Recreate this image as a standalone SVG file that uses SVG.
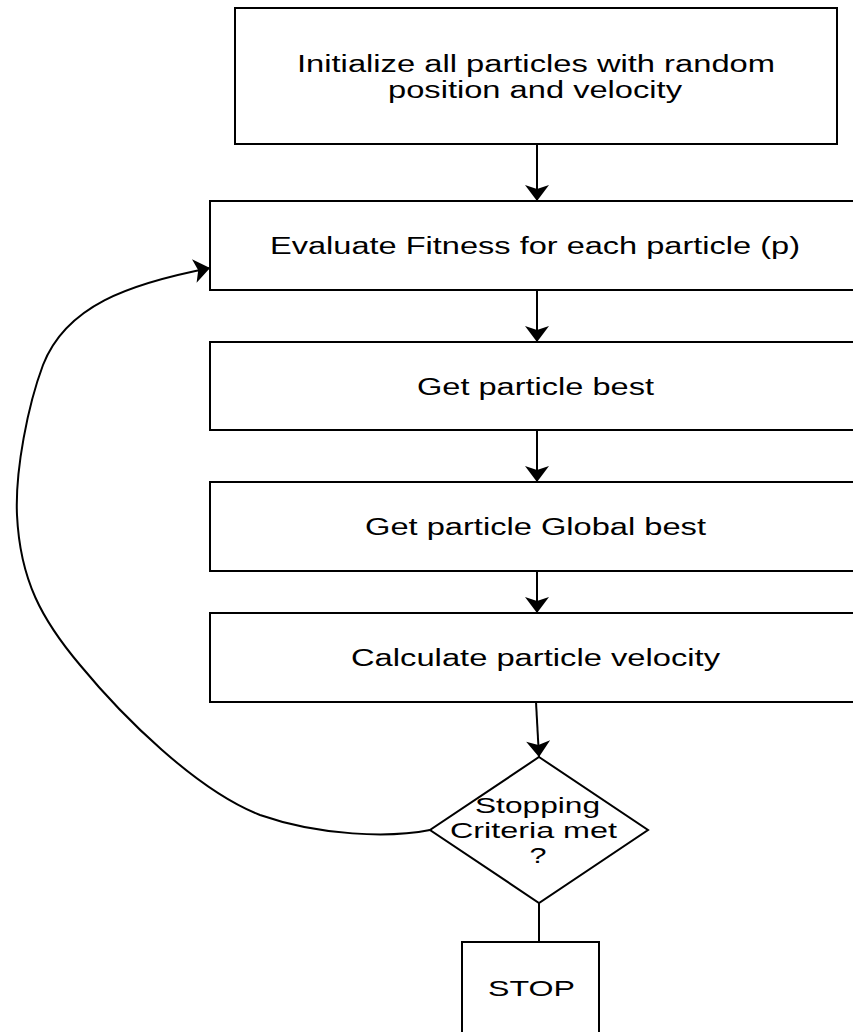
<svg xmlns="http://www.w3.org/2000/svg" width="853" height="1032" viewBox="0 0 853 1032">
  <style>
    .box { fill: #ffffff; stroke: #000000; stroke-width: 2; }
    .lbl { font-family: "Liberation Sans", Arial, Helvetica, sans-serif; font-size: 23px; fill: #000000; text-anchor: middle; }
    .sm { font-size: 22px; }
    .edge { fill: none; stroke: #000000; stroke-width: 2; }
  </style>
  <defs>
    <marker id="arrow" viewBox="-18 -13 19 26" refX="0" refY="0" markerWidth="19" markerHeight="26" markerUnits="userSpaceOnUse" orient="auto">
      <path d="M0,0 L-16,-12 L-12,0 L-16,12 Z" fill="#000000"/>
    </marker>
  </defs>
  <rect x="0" y="0" width="853" height="1032" fill="#ffffff"/>

  <g id="connectors">
    <path class="edge" d="M537,144 L537,201" marker-end="url(#arrow)"/>
    <path class="edge" d="M537,290 L537,342" marker-end="url(#arrow)"/>
    <path class="edge" d="M537,430 L537,482" marker-end="url(#arrow)"/>
    <path class="edge" d="M537,571 L537,613" marker-end="url(#arrow)"/>
    <path class="edge" d="M536,702 L539,757" marker-end="url(#arrow)"/>
    <path class="edge" d="M539,903 L539,942"/>
    <path class="edge" d="M430,830 C390,838 320,836 260,815 C196,790 122,716 80,665 C42,620 20,580 17,515 C15,470 28,405 43,365 C66,306 128,284 210,268" marker-end="url(#arrow)"/>
  </g>

  <g id="node-init">
    <rect class="box" x="235" y="8" width="602" height="136"/>
    <text class="lbl" x="536" y="72" textLength="478" lengthAdjust="spacingAndGlyphs">Initialize all particles with random</text>
    <text class="lbl" x="535" y="98" textLength="294" lengthAdjust="spacingAndGlyphs">position and velocity</text>
  </g>

  <g id="node-evaluate">
    <rect class="box" x="210" y="201" width="660" height="89"/>
    <text class="lbl" x="535" y="254" textLength="530" lengthAdjust="spacingAndGlyphs">Evaluate Fitness for each particle (p)</text>
  </g>

  <g id="node-pbest">
    <rect class="box" x="210" y="342" width="660" height="88"/>
    <text class="lbl" x="535.5" y="395" textLength="237" lengthAdjust="spacingAndGlyphs">Get particle best</text>
  </g>

  <g id="node-gbest">
    <rect class="box" x="210" y="482" width="660" height="89"/>
    <text class="lbl" x="535.5" y="535" textLength="341" lengthAdjust="spacingAndGlyphs">Get particle Global best</text>
  </g>

  <g id="node-velocity">
    <rect class="box" x="210" y="613" width="660" height="89"/>
    <text class="lbl" x="535.5" y="666" textLength="369" lengthAdjust="spacingAndGlyphs">Calculate particle velocity</text>
  </g>

  <g id="node-decision">
    <polygon class="box" points="539,757 648,830 539,903 430,830"/>
    <text class="lbl sm" x="537.5" y="813" textLength="125" lengthAdjust="spacingAndGlyphs">Stopping</text>
    <text class="lbl sm" x="533.5" y="838" textLength="167" lengthAdjust="spacingAndGlyphs">Criteria met</text>
    <text class="lbl sm" x="538" y="863" textLength="17" lengthAdjust="spacingAndGlyphs">?</text>
  </g>

  <g id="node-stop">
    <rect class="box" x="462" y="942" width="137" height="100"/>
    <text class="lbl sm" x="531.5" y="996" textLength="87" lengthAdjust="spacingAndGlyphs">STOP</text>
  </g>
</svg>
